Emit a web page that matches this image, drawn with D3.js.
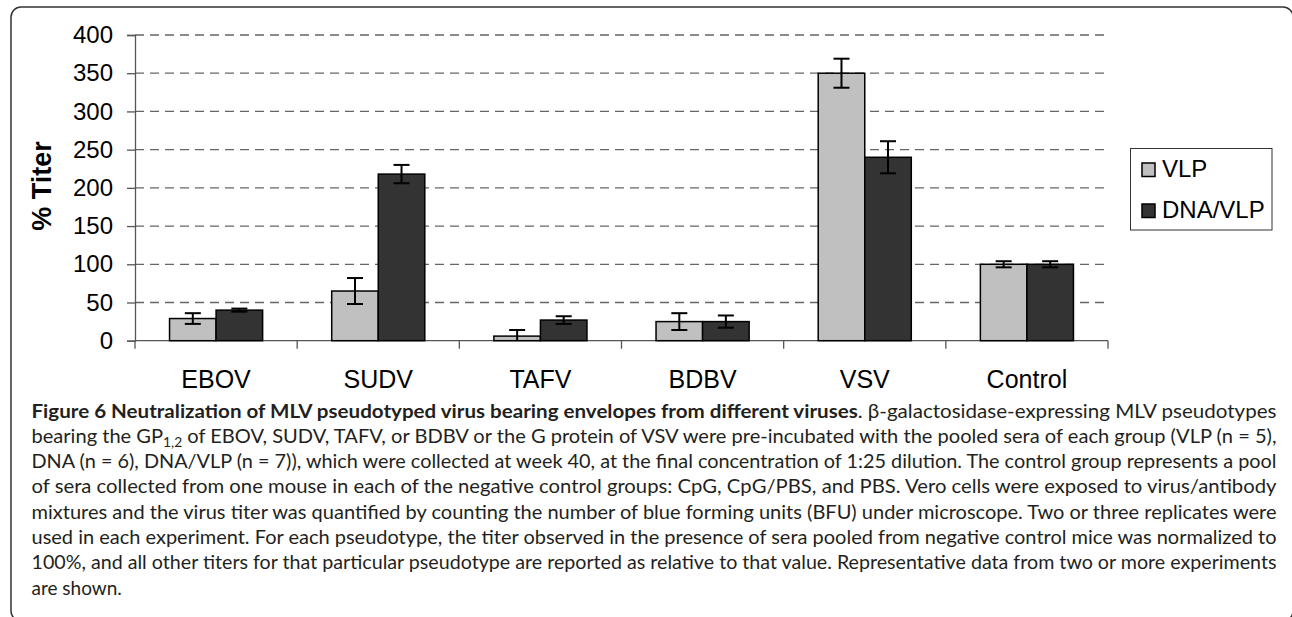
<!DOCTYPE html>
<html>
<head>
<meta charset="utf-8">
<script src="https://cdn.jsdelivr.net/npm/d3@7"></script>
<style>
  html, body { margin: 0; padding: 0; background: #fff; }
  svg { display: block; }
</style>
</head>
<body>
<svg id="chart" width="1292" height="617"></svg>
<script>
const categories = ["EBOV", "SUDV", "TAFV", "BDBV", "VSV", "Control"]
const vlp = [29, 65, 6, 25, 350, 100]
const vlpErr = [7, 17, 8, 11, 19, 4]
const dnaVlp = [40, 218, 27, 25, 240, 100]
const dnaVlpErr = [2, 12, 5, 8, 21, 4]
const seriesNames = ["VLP", "DNA/VLP"]
const seriesColors = ["#c0c0c0", "#333333"]
const yTicks = [0, 50, 100, 150, 200, 250, 300, 350, 400]

const captionLines = [
  [{b: true, t: "Figure 6 Neutralization of MLV pseudotyped virus bearing envelopes from different viruses"}, {t: ". β-galactosidase-expressing MLV pseudotypes"}],
  [{t: "bearing the GP"}, {sub: true, t: "1,2"}, {t: " of EBOV, SUDV, TAFV, or BDBV or the G protein of VSV were pre-incubated with the pooled sera of each group (VLP (n = 5),"}],
  [{t: "DNA (n = 6), DNA/VLP (n = 7)), which were collected at week 40, at the final concentration of 1:25 dilution. The control group represents a pool"}],
  [{t: "of sera collected from one mouse in each of the negative control groups: CpG, CpG/PBS, and PBS. Vero cells were exposed to virus/antibody"}],
  [{t: "mixtures and the virus titer was quantified by counting the number of blue forming units (BFU) under microscope. Two or three replicates were"}],
  [{t: "used in each experiment. For each pseudotype, the titer observed in the presence of sera pooled from negative control mice was normalized to"}],
  [{t: "100%, and all other titers for that particular pseudotype are reported as relative to that value. Representative data from two or more experiments"}],
  [{t: "are shown."}]
]

const plot = {left: 135, right: 1108, top: 35, bottom: 340.7}
const chartFont = "'Liberation Sans', Arial, sans-serif"

const svg = d3.select("#chart")

// outer frame (right and bottom edges fall just outside the picture)
svg.append("rect")
  .attr("x", 11).attr("y", 7)
  .attr("width", 1282).attr("height", 614)
  .attr("rx", 10)
  .attr("fill", "none")
  .attr("stroke", "#333")
  .attr("stroke-width", 1.5)

const x = d3.scaleBand().domain(categories).range([plot.left, plot.right])
const y = d3.scaleLinear().domain([0, 400]).range([plot.bottom, plot.top])
const barW = x.bandwidth() * 0.287
const groupPad = (x.bandwidth() - 2 * barW) / 2

// grid
svg.append("g").attr("class", "grid")
  .selectAll("line")
  .data(yTicks.filter(d => d > 0))
  .enter().append("line")
  .attr("x1", plot.left).attr("x2", plot.right)
  .attr("y1", d => y(d)).attr("y2", d => y(d))
  .attr("stroke", "#666")
  .attr("stroke-width", 1.3)
  .attr("stroke-dasharray", "9,6")

// y axis
const yAxis = svg.append("g")
  .attr("transform", `translate(${plot.left},0)`)
  .call(d3.axisLeft(y).tickValues(yTicks).tickSize(8).tickPadding(14))
yAxis.select(".domain").attr("stroke", "#555").attr("stroke-width", 1.3)
yAxis.selectAll(".tick line").attr("stroke", "#555").attr("stroke-width", 1.3)
yAxis.selectAll(".tick text")
  .attr("font-family", chartFont).attr("font-size", 24).attr("fill", "#000")

// x axis: ticks sit on band boundaries
svg.append("line")
  .attr("x1", plot.left).attr("x2", plot.right)
  .attr("y1", plot.bottom).attr("y2", plot.bottom)
  .attr("stroke", "#555").attr("stroke-width", 1.3)
const bounds = categories.map(c => x(c)).concat([plot.right])
svg.append("g").selectAll("line")
  .data(bounds)
  .enter().append("line")
  .attr("x1", d => d).attr("x2", d => d)
  .attr("y1", plot.bottom).attr("y2", plot.bottom + 8)
  .attr("stroke", "#555").attr("stroke-width", 1.3)
svg.append("g").selectAll("text")
  .data(categories)
  .enter().append("text")
  .attr("x", d => x(d) + x.bandwidth() / 2)
  .attr("y", 388)
  .attr("text-anchor", "middle")
  .attr("font-family", chartFont).attr("font-size", 25)
  .text(d => d)

// bars
const series = [
  {vals: vlp, errs: vlpErr},
  {vals: dnaVlp, errs: dnaVlpErr}
]
series.forEach((s, si) => {
  const g = svg.append("g").attr("class", "series-" + si)
  g.selectAll("rect")
    .data(categories)
    .enter().append("rect")
    .attr("x", d => x(d) + groupPad + si * barW)
    .attr("y", (d, i) => y(s.vals[i]))
    .attr("width", barW)
    .attr("height", (d, i) => y(0) - y(s.vals[i]))
    .attr("fill", seriesColors[si])
    .attr("stroke", "#000")
    .attr("stroke-width", 1.5)
  const cx = (d) => x(d) + groupPad + si * barW + barW / 2
  const hi = (i) => y(s.vals[i] + s.errs[i])
  const lo = (i) => y(Math.max(0, s.vals[i] - s.errs[i]))
  const eg = g.selectAll("g.err")
    .data(categories)
    .enter().append("g").attr("class", "err")
    .attr("stroke", "#000").attr("stroke-width", 2)
  eg.append("line")
    .attr("x1", cx).attr("x2", cx)
    .attr("y1", (d, i) => hi(i))
    .attr("y2", (d, i) => lo(i))
  eg.append("line")
    .attr("x1", d => cx(d) - 8).attr("x2", d => cx(d) + 8)
    .attr("y1", (d, i) => hi(i))
    .attr("y2", (d, i) => hi(i))
  eg.append("line")
    .attr("x1", d => cx(d) - 8).attr("x2", d => cx(d) + 8)
    .attr("y1", (d, i) => lo(i))
    .attr("y2", (d, i) => lo(i))
    .style("display", (d, i) => s.vals[i] - s.errs[i] > 0 ? null : "none")
})

// y title
svg.append("text")
  .attr("transform", "translate(51,186) rotate(-90)")
  .attr("text-anchor", "middle")
  .attr("font-family", chartFont).attr("font-size", 27).attr("font-weight", "bold")
  .text("% Titer")

// legend
const legend = svg.append("g")
legend.append("rect")
  .attr("x", 1130.5).attr("y", 148.5)
  .attr("width", 141.5).attr("height", 81.5)
  .attr("fill", "#fff").attr("stroke", "#333").attr("stroke-width", 1)
const li = legend.selectAll("g.item")
  .data(seriesNames)
  .enter().append("g").attr("class", "item")
  .attr("transform", (d, i) => `translate(1142,${163 + i * 41})`)
li.append("rect")
  .attr("width", 13).attr("height", 13.5)
  .attr("fill", (d, i) => seriesColors[i])
  .attr("stroke", "#000").attr("stroke-width", 1.5)
li.append("text")
  .attr("x", 20).attr("y", 14)
  .attr("font-family", chartFont).attr("font-size", 24)
  .text(d => d)

// caption, justified line by line
const cap = svg.append("g")
  .attr("font-family", "Lato, 'Open Sans', sans-serif")
  .attr("font-size", 19)
  .attr("fill", "#231f20")
captionLines.forEach((parts, li) => {
  const t = cap.append("text")
    .attr("x", 31.5)
    .attr("y", 417.5 + li * 25.3)
  if (li < captionLines.length - 1) {
    t.attr("textLength", 1245).attr("lengthAdjust", "spacingAndGlyphs")
  }
  parts.forEach((p, pi) => {
    const span = t.append("tspan").text(p.t)
    if (p.b) span.attr("font-weight", "bold")
    if (p.sub) span.attr("font-size", 13).attr("dy", 4)
    else if (pi > 0 && parts[pi - 1].sub) span.attr("dy", -4)
  })
})
</script>
</body>
</html>
